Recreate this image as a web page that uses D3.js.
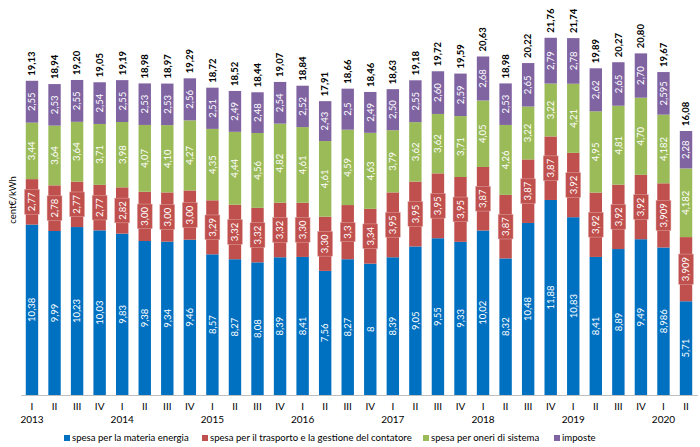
<!DOCTYPE html>
<html><head><meta charset="utf-8">
<script src="https://cdn.jsdelivr.net/npm/d3@7"></script>
<style>
body{margin:0;background:#fff;}
svg{display:block;font-family:Lato, "Open Sans", sans-serif;}
</style></head>
<body><svg id="chart" width="700" height="447"></svg>
<script>
const quarters = ["I","II","III","IV","I","II","III","IV","I","II","III","IV","I","II","III","IV","I","II","III","IV","I","II","III","IV","I","II","III","IV","I","II"];
const years = ["2013","2014","2015","2016","2017","2018","2019","2020"];
const energia  = [10.38,9.99,10.23,10.03,9.83,9.38,9.34,9.46,8.57,8.27,8.08,8.39,8.41,7.56,8.27,8,8.39,9.05,9.55,9.33,10.02,8.32,10.48,11.88,10.83,8.41,8.89,9.49,8.986,5.71];
const trasporto = [2.77,2.78,2.77,2.77,2.82,3.00,3.00,3.00,3.29,3.32,3.32,3.32,3.30,3.30,3.3,3.34,3.95,3.95,3.95,3.95,3.87,3.87,3.87,3.87,3.92,3.92,3.92,3.92,3.909,3.909];
const oneri    = [3.44,3.64,3.64,3.71,3.98,4.07,4.10,4.27,4.35,4.44,4.56,4.82,4.61,4.61,4.59,4.63,3.79,3.62,3.62,3.71,4.05,4.26,3.22,3.22,4.21,4.95,4.81,4.70,4.182,4.182];
const imposte  = [2.55,2.53,2.55,2.54,2.55,2.53,2.53,2.56,2.51,2.49,2.48,2.54,2.52,2.43,2.5,2.49,2.50,2.55,2.60,2.59,2.68,2.53,2.65,2.79,2.78,2.62,2.65,2.70,2.595,2.28];
const totali   = ["19,13","18,94","19,20","19,05","19,19","18,98","18,97","19,29","18,72","18,52","18,44","19,07","18,84","17,91","18,66","18,46","18,63","19,18","19,72","19,59","20,63","18,98","20,22","21,76","21,74","19,89","20,27","20,80","19,67","16,08"];
const lblEnergia  = ["10,38","9,99","10,23","10,03","9,83","9,38","9,34","9,46","8,57","8,27","8,08","8,39","8,41","7,56","8,27","8","8,39","9,05","9,55","9,33","10,02","8,32","10,48","11,88","10,83","8,41","8,89","9,49","8,986","5,71"];
const lblTrasporto = ["2,77","2,78","2,77","2,77","2,82","3,00","3,00","3,00","3,29","3,32","3,32","3,32","3,30","3,30","3,3","3,34","3,95","3,95","3,95","3,95","3,87","3,87","3,87","3,87","3,92","3,92","3,92","3,92","3,909","3,909"];
const lblOneri    = ["3,44","3,64","3,64","3,71","3,98","4,07","4,10","4,27","4,35","4,44","4,56","4,82","4,61","4,61","4,59","4,63","3,79","3,62","3,62","3,71","4,05","4,26","3,22","3,22","4,21","4,95","4,81","4,70","4,182","4,182"];
const lblImposte  = ["2,55","2,53","2,55","2,54","2,55","2,53","2,53","2,56","2,51","2,49","2,48","2,54","2,52","2,43","2,5","2,49","2,50","2,55","2,60","2,59","2,68","2,53","2,65","2,79","2,78","2,62","2,65","2,70","2,595","2,28"];
const seriesNames = ["spesa per la materia energia","spesa per il trasporto e la gestione del contatore","spesa per oneri di sistema","imposte"];
const colors = ["#0070C0","#C0504D","#9BBB59","#8064A2"];

const svg = d3.select("#chart");
const idx = d3.range(quarters.length);
const x = d3.scaleBand().domain(idx).range([20.7, 697.3]).paddingInner(0.45).paddingOuter(0.225);
const y = d3.scaleLinear().domain([0, 24]).range([395, 1]);

const seriesLbls = [lblEnergia, lblTrasporto, lblOneri, lblImposte];
const rows = idx.map(i => ({i, e: energia[i], t: trasporto[i], o: oneri[i], m: imposte[i]}));
const stack = d3.stack().keys(["e","t","o","m"])(rows);

const gBars = svg.append("g");
stack.forEach((layer, k) => {
  gBars.selectAll(null).data(layer).enter().append("rect")
    .attr("x", d => x(d.data.i))
    .attr("width", x.bandwidth())
    .attr("y", d => y(d[1]))
    .attr("height", d => y(d[0]) - y(d[1]))
    .attr("fill", colors[k]);
});

const fs = 9.5;
const gL = svg.append("g");
stack.forEach((layer, k) => {
  layer.forEach((d, j) => {
    const cx = x(d.data.i) + x.bandwidth()/2;
    const cy = (y(d[0]) + y(d[1]))/2;
    const g = gL.append("g").attr("transform", `translate(${cx},${cy}) rotate(-90)`);
    const txt = g.append("text").attr("text-anchor","middle").attr("dy","0.35em")
      .attr("font-size", fs).attr("fill","#fff").text(seriesLbls[k][j]);
    if (k === 1) {
      const w = txt.node().getComputedTextLength();
      const h = x.bandwidth() + 2.5;
      g.insert("rect","text").attr("x", -w/2 - 3).attr("y", -h/2).attr("width", w + 6).attr("height", h)
        .attr("fill", colors[1]).attr("stroke", "#e0a9a7").attr("stroke-width", 0.5);
    }
  });
});

const topLayer = stack[3];
topLayer.forEach((d, j) => {
  const cx = x(d.data.i) + x.bandwidth()/2;
  svg.append("text").attr("transform", `translate(${cx},${y(d[1]) - 5}) rotate(-90)`)
    .attr("dy","0.35em").attr("font-size", fs).attr("font-weight", "bold").attr("fill","#000").text(totali[j]);
});

const ax = svg.append("g").attr("transform","translate(0,395)")
  .call(d3.axisBottom(x).tickSize(0).tickPadding(8).tickFormat(i => quarters[i]));
ax.select(".domain").attr("stroke","#bfbfbf");
ax.selectAll("text").attr("font-size", 10).attr("fill","#000").attr("font-family","Lato, 'Open Sans', sans-serif");

const yearIdx = idx.filter(i => quarters[i] === "I");
svg.append("g").selectAll("text").data(yearIdx).enter().append("text")
  .attr("x", i => x(i) + x.bandwidth()/2).attr("y", 423)
  .attr("text-anchor","middle").attr("font-size", 10).attr("fill","#000")
  .text((i, n) => years[n]);

svg.append("text").attr("transform","translate(13,200) rotate(-90)")
  .attr("text-anchor","middle").attr("dy","0.35em").attr("font-size", 9.5).attr("fill","#000").text("cent€/kWh");

const legX = [64, 202, 423, 554];
const leg = svg.append("g");
seriesNames.forEach((n, k) => {
  leg.append("rect").attr("x", legX[k]).attr("y", 435).attr("width", 6).attr("height", 6).attr("fill", colors[k]);
  leg.append("text").attr("x", legX[k] + 8).attr("y", 438).attr("dy","0.35em")
    .attr("font-size", 9.6).attr("fill","#000").text(n);
});
</script></body></html>
